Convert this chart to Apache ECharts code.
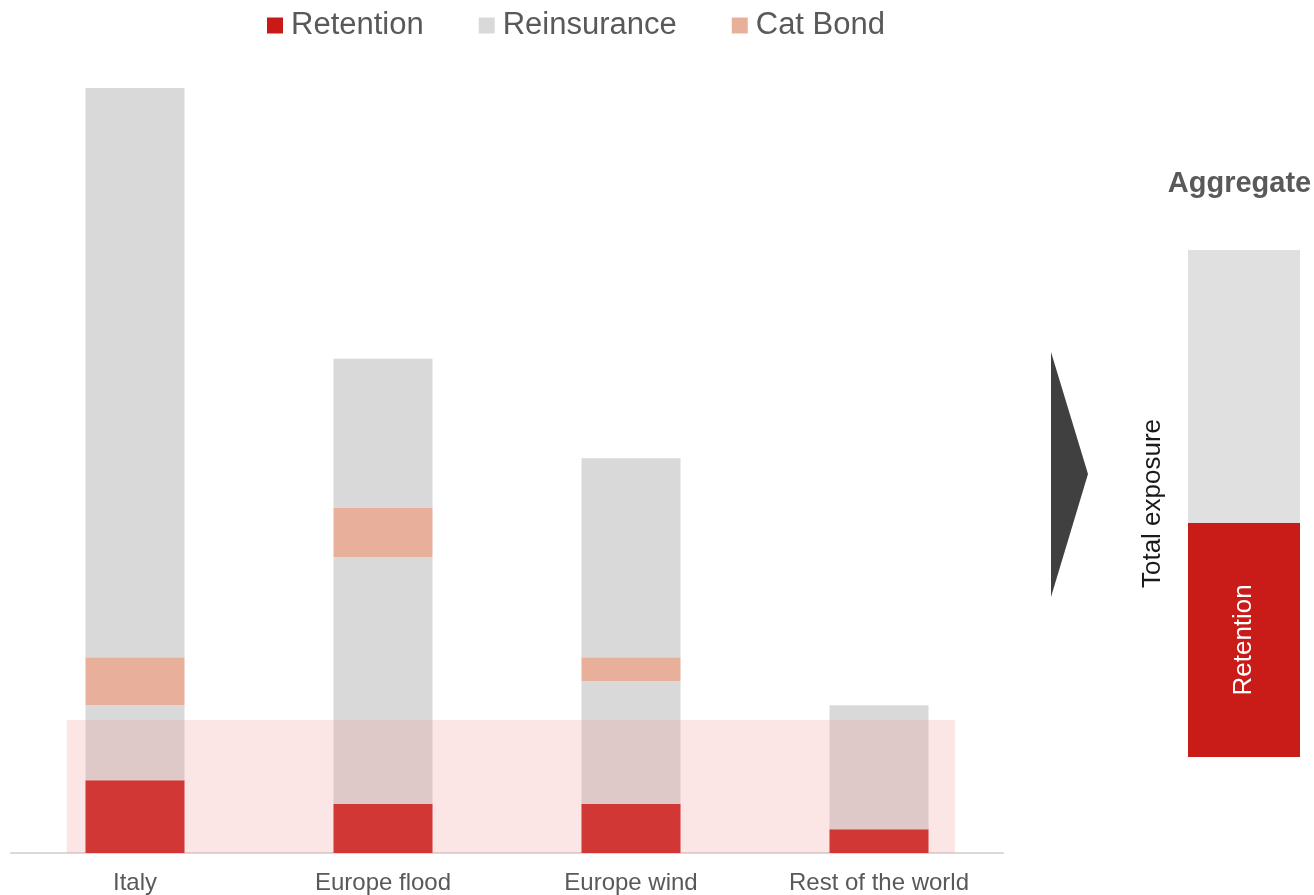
<!DOCTYPE html>
<html>
<head>
<meta charset="utf-8">
<script src="https://cdn.jsdelivr.net/npm/echarts@6/dist/echarts.min.js"></script>
<style>
html,body{margin:0;padding:0;background:#fff;}
#chart{width:1314px;height:895px;}
</style>
</head>
<body>
<div id="chart"></div>
<script>
// ---- data ----
var categories = ['Italy', 'Europe flood', 'Europe wind', 'Rest of the world'];
var retention = [9.5, 6.4, 6.4, 3.1];
var reinsuranceLower = [9.8, 32.3, 16.1, 16.2];
var catBond = [6.3, 6.4, 3.1, 0];
var reinsuranceUpper = [74.4, 19.5, 26.0, 0];
var bandRange = [[0.225, 3.806, 17.4]]; // x start, x end (category units), top value
var aggCategories = ['Aggregate'];
var aggRetention = [46.2];
var aggReinsurance = [53.8];

var RED = '#C81B17', GRAY = '#D9D9D9', CAT = '#E8B09A', TXT = '#595959';
var FONT = '"Liberation Sans", Arial, sans-serif';

var chart = echarts.init(document.getElementById('chart'));
chart.setOption({
  backgroundColor: '#fff',
  animation: false,
  textStyle: { fontFamily: FONT },
  legend: {
    left: 262, top: 5,
    itemWidth: 16, itemHeight: 16, itemGap: 55,
    icon: 'rect',
    data: ['Retention', 'Reinsurance', 'Cat Bond'],
    textStyle: { fontSize: 31, color: TXT, fontFamily: FONT, padding: [0, 0, 0, 3] }
  },
  grid: [
    { left: 11, width: 992, top: 88, bottom: 42, outerBoundsMode: 'none', containLabel: false },
    { left: 1188, width: 112, top: 250, bottom: 138, outerBoundsMode: 'none', containLabel: false }
  ],
  xAxis: [
    { type: 'category', gridIndex: 0, data: categories,
      axisLine: { lineStyle: { color: GRAY, width: 2 } },
      axisTick: { show: false },
      axisLabel: { fontSize: 24, color: TXT, margin: 18, fontFamily: FONT } },
    { type: 'value', gridIndex: 0, min: 0, max: 4, show: false },
    { type: 'category', gridIndex: 1, data: aggCategories, position: 'top',
      axisLine: { show: false }, axisTick: { show: false },
      axisLabel: { fontSize: 29, fontWeight: 'bold', color: TXT, margin: 52, fontFamily: FONT,
                   padding: [0, 9, 0, 0] } }
  ],
  yAxis: [
    { type: 'value', gridIndex: 0, min: 0, max: 100, show: false },
    { type: 'value', gridIndex: 1, min: 0, max: 100,
      axisLine: { show: false }, axisTick: { show: false }, axisLabel: { show: false }, splitLine: { show: false },
      name: 'Total exposure', nameLocation: 'middle', nameRotate: 90, nameGap: 22,
      nameTextStyle: { fontSize: 26, color: '#1a1a1a', fontFamily: FONT } }
  ],
  series: [
    { name: 'Retention', type: 'bar', stack: 'a', xAxisIndex: 0, yAxisIndex: 0, barWidth: 99,
      data: retention, itemStyle: { color: RED } },
    { name: 'Reinsurance', type: 'bar', stack: 'a', xAxisIndex: 0, yAxisIndex: 0, barWidth: 99,
      data: reinsuranceLower, itemStyle: { color: GRAY } },
    { name: 'Cat Bond', type: 'bar', stack: 'a', xAxisIndex: 0, yAxisIndex: 0, barWidth: 99,
      data: catBond, itemStyle: { color: CAT } },
    { name: 'Reinsurance', type: 'bar', stack: 'a', xAxisIndex: 0, yAxisIndex: 0, barWidth: 99,
      data: reinsuranceUpper, itemStyle: { color: GRAY } },
    { type: 'custom', xAxisIndex: 1, yAxisIndex: 0, z: 10, silent: true,
      data: bandRange,
      renderItem: function (params, api) {
        var p0 = api.coord([api.value(0), api.value(2)]);
        var p1 = api.coord([api.value(1), 0]);
        return { type: 'rect', shape: { x: p0[0], y: p0[1], width: p1[0] - p0[0], height: p1[1] - p0[1] },
                 style: { fill: 'rgba(238,145,145,0.24)' } };
      } },
    { name: 'AggRetention', type: 'bar', stack: 'b', xAxisIndex: 2, yAxisIndex: 1, barWidth: '100%',
      data: aggRetention, itemStyle: { color: '#C91B18' },
      label: { show: true, position: 'inside', rotate: 90, formatter: 'Retention',
               color: '#fff', fontSize: 26, fontFamily: FONT } },
    { name: 'AggReinsurance', type: 'bar', stack: 'b', xAxisIndex: 2, yAxisIndex: 1, barWidth: '100%',
      data: aggReinsurance, itemStyle: { color: '#E0E0E0' } }
  ],
  graphic: [
    { type: 'polygon', shape: { points: [[1051, 352], [1088, 474], [1051, 597]] },
      style: { fill: '#404040' } }
  ]
});
</script>
</body>
</html>
